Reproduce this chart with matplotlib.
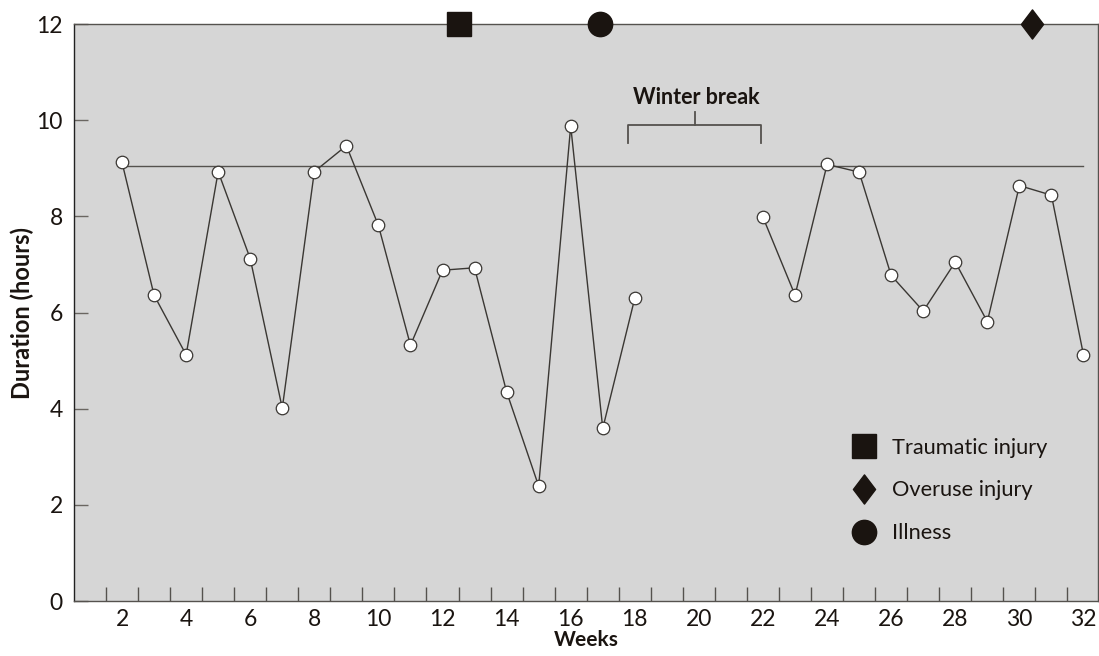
import numpy as np
import matplotlib
matplotlib.use("Agg")
import matplotlib.pyplot as plt
from matplotlib.lines import Line2D
from matplotlib.path import Path

plt.rcParams['font.family'] = ['Lato', 'DejaVu Sans']

# ---- data ----
weeks_a = [2, 3, 4, 5, 6, 7, 8, 9, 10, 11, 12, 13, 14, 15, 16, 17, 18]
hours_a = [9.12, 6.36, 5.12, 8.93, 7.12, 4.01, 8.93, 9.47, 7.81, 5.32, 6.88, 6.93, 4.35, 2.39, 9.88, 3.59, 6.30]
weeks_b = [22, 23, 24, 25, 26, 27, 28, 29, 30, 31, 32]
hours_b = [7.98, 6.36, 9.08, 8.92, 6.77, 6.03, 7.05, 5.81, 8.64, 8.44, 5.12]
mean_line_weeks = [2, 32]
mean_line_value = 9.05
event_weeks = {'Traumatic injury': 12.5, 'Illness': 16.9, 'Overuse injury': 30.4}
event_level = 12
break_start, break_end = 17.8, 21.95
break_label = "Winter break"
x_tick_labels = list(range(2, 33, 2))
y_ticks = [0, 2, 4, 6, 8, 10, 12]

diamond = Path([(0, 1), (0.76, 0), (0, -1), (-0.76, 0), (0, 1)],
               [Path.MOVETO, Path.LINETO, Path.LINETO, Path.LINETO, Path.CLOSEPOLY])

fig = plt.figure(figsize=(10.99, 6.56), dpi=100)
ax = fig.add_axes([0.0673, 0.0838, 0.9317, 0.8796])
ax.set_facecolor('#d6d6d6')
ax.set_xlim(0.5, 32.45)
ax.set_ylim(0, 12)

dark = '#1a1410'
linec = '#3a3733'

ax.plot(mean_line_weeks, [mean_line_value] * 2, color='#55524e', lw=1.0, zorder=2)
for w, h in [(weeks_a, hours_a), (weeks_b, hours_b)]:
    ax.plot(w, h, color=linec, lw=1.0, marker='o', markersize=9,
            markerfacecolor='white', markeredgecolor=linec, markeredgewidth=0.9, zorder=3)

# events on top
ax.plot([event_weeks['Traumatic injury']], [event_level], marker='s', markersize=17,
        color=dark, clip_on=False, zorder=5, linestyle='none')
ax.plot([event_weeks['Illness']], [event_level], marker='o', markersize=17.5,
        color=dark, clip_on=False, zorder=5, linestyle='none')
ax.plot([event_weeks['Overuse injury']], [event_level], marker=diamond, markersize=21,
        color=dark, clip_on=False, zorder=5, linestyle='none')

# winter break bracket
bc = '#55524e'
mid = (break_start + break_end) / 2
ax.plot([break_start, break_start, break_end, break_end], [9.52, 9.9, 9.9, 9.52],
        color=bc, lw=1.3, zorder=2)
ax.plot([mid, mid], [9.9, 10.16], color=bc, lw=1.3, zorder=2)
ax.text(mid + 0.05, 10.48, break_label, ha='center', va='center', fontsize=15.5,
        fontweight='bold', color=dark)

# ticks
ax.set_xticks(x_tick_labels)
ax.set_xticklabels([str(v) for v in x_tick_labels])
ax.set_xticks(np.arange(1.5, 32.5, 1.0), minor=True)
ax.tick_params(axis='x', which='major', length=0, pad=6, labelsize=16.5, labelcolor=dark)
ax.tick_params(axis='x', which='minor', direction='in', length=10, width=1.0, color='#55524e')
ax.set_yticks(y_ticks)
ax.tick_params(axis='y', which='major', direction='in', length=10, width=1.0,
               color='#6a6661', pad=8, labelsize=16.5, labelcolor=dark)

for s in ['left', 'bottom', 'top', 'right']:
    ax.spines[s].set_color('#55524e')
    ax.spines[s].set_linewidth(1.0)
ax.spines['left'].set_color('#222')

ax.set_xlabel('Weeks', fontsize=15, fontweight='bold', color=dark, labelpad=0)
ax.set_ylabel('Duration (hours)', fontsize=17, fontweight='bold', color=dark, labelpad=2)

handles = [
    Line2D([], [], marker='s', markersize=17, color=dark, linestyle='none'),
    Line2D([], [], marker=diamond, markersize=21, color=dark, linestyle='none'),
    Line2D([], [], marker='o', markersize=17.5, color=dark, linestyle='none'),
]
labels = ['Traumatic injury', 'Overuse injury', 'Illness']
ax.legend(handles, labels, loc='lower left', bbox_to_anchor=(0.74, 0.066),
          frameon=False, fontsize=15.7, labelspacing=1.05, handletextpad=0.65,
          handlelength=1.2, labelcolor=dark)

fig.savefig('out.png', dpi=100)
